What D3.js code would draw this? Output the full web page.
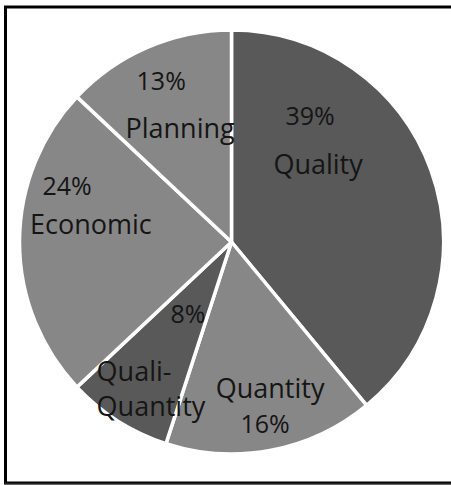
<!DOCTYPE html>
<html>
<head>
<meta charset="utf-8">
<script src="https://cdn.jsdelivr.net/npm/d3@7"></script>
<style>
  body { margin: 0; background: #fff; }
  svg { display: block; }
</style>
</head>
<body>
<svg id="chart" width="451" height="485"></svg>
<script>
// slice data, clockwise from 12 o'clock
const categories = ["Quality", "Quantity", "Quali-Quantity", "Economic", "Planning"];
const shares = [39, 16, 8, 24, 13];
const labelLines = [["Quality"], ["Quantity"], ["Quali-", "Quantity"], ["Economic"], ["Planning"]];

const width = 451, height = 485;
const cx = 231.5, cy = 242, r = 212;

const svg = d3.select("#chart");

// outer frame
svg.append("rect")
    .attr("x", 5.5).attr("y", 7)
    .attr("width", 460).attr("height", 476)
    .attr("fill", "none")
    .attr("stroke", "#000")
    .attr("stroke-width", 3);
svg.append("line")
    .attr("x1", 5).attr("x2", width).attr("y1", 483.5).attr("y2", 483.5)
    .attr("stroke", "#222").attr("stroke-width", 1.5);

const color = d3.scaleOrdinal()
    .domain(categories)
    .range(["#595959", "#878787", "#595959", "#878787", "#878787"]);

const pie = d3.pie().sort(null).value(d => d.value);
const arcs = pie(categories.map((c, i) => ({ name: c, value: shares[i] })));
const arc = d3.arc().innerRadius(0).outerRadius(r);

const g = svg.append("g").attr("transform", `translate(${cx},${cy})`);

g.selectAll("path")
    .data(arcs)
    .enter()
    .append("path")
    .attr("d", arc)
    .attr("fill", d => color(d.data.name))
    .attr("stroke", "#fff")
    .attr("stroke-width", 3.5)
    .attr("stroke-linejoin", "round");

// label placement (radius fraction, angle offset in rad) per slice
const pctPos = [[0.705, -0.672], [0.868, 0.005], [0.393, -0.016], [0.821, 0.333], [0.835, 0]];
const catPos = [[0.553, -0.394], [0.712, -0.07], [0.786, -0.061], [0.669, 0.134], [0.594, -0.012]];

function place(d, pos) {
    const a = (d.startAngle + d.endAngle) / 2 + pos[1];
    return [Math.sin(a) * r * pos[0], -Math.cos(a) * r * pos[0]];
}

const textFont = "'Open Sans', sans-serif";

arcs.forEach((d, i) => {
    const [px, py] = place(d, pctPos[i]);
    g.append("text")
        .attr("x", px).attr("y", py)
        .attr("text-anchor", "middle")
        .attr("dominant-baseline", "central")
        .attr("font-family", textFont)
        .attr("font-size", 25)
        .attr("fill", "#151515")
        .text(shares[i] + "%");

    const [lx, ly] = place(d, catPos[i]);
    const lines = labelLines[i];
    const texts = lines.map((ln, k) => g.append("text")
            .attr("y", ly + (k - (lines.length - 1) / 2) * 35)
            .attr("dominant-baseline", "central")
            .attr("font-family", textFont)
            .attr("font-size", 27)
            .attr("fill", "#151515")
            .text(ln));
    // multi-line labels are left aligned as a block
    const maxW = d3.max(texts, t => t.node().getComputedTextLength());
    texts.forEach(t => {
        if (lines.length > 1) t.attr("x", lx - maxW / 2).attr("text-anchor", "start");
        else t.attr("x", lx).attr("text-anchor", "middle");
    });
});
</script>
</body>
</html>
